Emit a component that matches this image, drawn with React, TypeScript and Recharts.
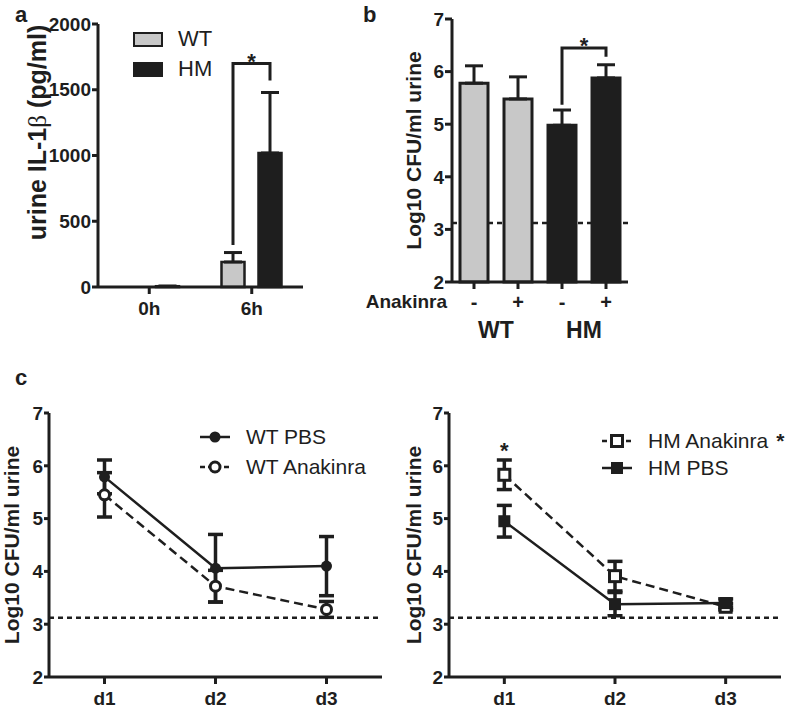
import React from "react";
import {
  BarChart,
  Bar,
  ComposedChart,
  Line,
  XAxis,
  YAxis,
  ErrorBar,
  ReferenceLine,
  LabelList,
  Legend,
  Cell,
} from "recharts";

// a: urine IL-1β
const IL_TIMES = ["0h", "6h"];
const IL_WT = [0, 190];
const IL_WT_SD = [0, 72];
const IL_HM = [6, 1019];
const IL_HM_SD = [0, 460];
const IL_TICKS = [0, 500, 1000, 1500, 2000];
const IL_BRACKET = [320, 1700, 1570]; // left foot, top, right foot

// b: CFU with / without anakinra
const CFU_KEYS = ["WT-", "WT+", "HM-", "HM+"];
const CFU_SIGNS = ["-", "+", "-", "+"];
const CFU_GROUPS = ["WT", "WT", "HM", "HM"];
const CFU_MEAN = [5.78, 5.48, 4.98, 5.88];
const CFU_SD = [0.33, 0.42, 0.29, 0.25];
const CFU_BRACKET = [5.37, 6.45, 6.28];

const LOG_TICKS = [2, 3, 4, 5, 6, 7];
const DETECTION_LIMIT = 3.12;

// c: time course
const DAYS = ["d1", "d2", "d3"];
const WT_PBS = [5.79, 4.06, 4.1];
const WT_PBS_SD = [0.32, 0.64, 0.56];
const WT_ANA = [5.45, 3.72, 3.28];
const WT_ANA_SD = [0.42, 0.3, 0.15];
const HM_ANA = [5.83, 3.91, 3.33];
const HM_ANA_SD = [0.28, 0.28, 0.06];
const HM_PBS = [4.95, 3.38, 3.4];
const HM_PBS_SD = [0.3, 0.22, 0.08];

const FONT = '"Liberation Sans", Arial, sans-serif';
const INK = "#1e1e1e";
const GREY = "#c8c8c8";

const ilData = IL_TIMES.map((t, i) => ({
  time: t,
  wt: IL_WT[i],
  hm: IL_HM[i],
  wtErr: [0, IL_WT_SD[i]],
  hmErr: [0, IL_HM_SD[i]],
}));

const cfuData = CFU_KEYS.map((k, i) => ({
  key: k,
  mean: CFU_MEAN[i],
  err: [0, CFU_SD[i]],
}));

const wtDays = DAYS.map((d, i) => ({
  day: d,
  pbs: WT_PBS[i],
  pbsErr: WT_PBS_SD[i],
  ana: WT_ANA[i],
  anaErr: WT_ANA_SD[i],
}));

const hmDays = DAYS.map((d, i) => ({
  day: d,
  pbs: HM_PBS[i],
  pbsErr: HM_PBS_SD[i],
  ana: HM_ANA[i],
  anaErr: HM_ANA_SD[i],
}));

// chart geometry
const A_GAP = 14;
const B = { left: 358, w: 282, h: 350, top: 19, right: 12, yw: 94, xh: 68 };
const B_BAND = (B.w - B.yw - B.right) / CFU_KEYS.length;
const C_YW = 49;

const axisLine = { stroke: INK, strokeWidth: 3 };
const tickFont = { fill: INK, fontSize: 19, fontWeight: 700, fontFamily: FONT };
const dashed = { stroke: INK, strokeWidth: 2.5, strokeDasharray: "5 4" };

const AxisTitle = ({ viewBox, cx, dy = 0, size = 21, children }: any) => {
  const cy = viewBox.y + viewBox.height / 2 + dy;
  return (
    <text
      x={cx}
      y={cy}
      transform={`rotate(-90, ${cx}, ${cy})`}
      textAnchor="middle"
      dominantBaseline="central"
      fill={INK}
      fontFamily={FONT}
      fontWeight={700}
      fontSize={size}
    >
      {children}
    </text>
  );
};

const box = (p: any) => p.viewBox ?? p;

// significance bracket between the two 6h bars
const IlBracket = (props: any) => {
  if (props.index !== 1) return null;
  const { x, y, width, height } = box(props);
  const value = IL_HM[1];
  const base = y + height;
  const py = (v: number) => base - (v * height) / value;
  const xr = x + width / 2;
  const xl = xr - width - A_GAP;
  const [l, t, r] = IL_BRACKET.map(py);
  return (
    <g>
      <path d={`M${xl},${l} V${t} H${xr} V${r}`} fill="none" stroke={INK} strokeWidth={3} />
      <text x={(xl + xr) / 2} y={t + 6} textAnchor="middle" fill={INK} fontFamily={FONT} fontWeight={700} fontSize={22}>
        *
      </text>
    </g>
  );
};

const CfuBracket = (props: any) => {
  if (props.index !== 3) return null;
  const { x, y, width, height } = box(props);
  const value = CFU_MEAN[3];
  const base = y + height;
  const py = (v: number) => base - ((v - 2) * height) / (value - 2);
  const xr = x + width / 2;
  const xl = xr - B_BAND;
  const [l, t, r] = CFU_BRACKET.map(py);
  return (
    <g>
      <path d={`M${xl},${l} V${t} H${xr} V${r}`} fill="none" stroke={INK} strokeWidth={3} />
      <text x={(xl + xr) / 2} y={t + 5} textAnchor="middle" fill={INK} fontFamily={FONT} fontWeight={700} fontSize={22}>
        *
      </text>
    </g>
  );
};

const CfuTick = ({ x, y, payload }: any) => {
  const i = CFU_KEYS.indexOf(payload.value);
  const txt = { fill: INK, fontFamily: FONT, fontWeight: 700 };
  return (
    <g>
      <text x={x} y={y + 20} textAnchor="middle" fontSize={20} {...txt}>
        {CFU_SIGNS[i]}
      </text>
      {i === 0 && (
        <text x={x - 27} y={y + 19} textAnchor="end" fontSize={19} {...txt}>
          Anakinra
        </text>
      )}
      {i % 2 === 0 && (
        <text x={x + B_BAND / 2} y={y + 49} textAnchor="middle" fontSize={23} {...txt}>
          {CFU_GROUPS[i]}
        </text>
      )}
    </g>
  );
};

const marker = (shape: string, cx: number, cy: number, key?: any) => {
  if (shape === "circle") return <circle key={key} cx={cx} cy={cy} r={5.5} fill={INK} />;
  if (shape === "openCircle")
    return <circle key={key} cx={cx} cy={cy} r={5} fill="#fff" stroke={INK} strokeWidth={3} />;
  if (shape === "square")
    return <rect key={key} x={cx - 6} y={cy - 6} width={12} height={12} fill={INK} />;
  return (
    <rect key={key} x={cx - 5.5} y={cy - 5.5} width={11} height={11} fill="#fff" stroke={INK} strokeWidth={3} />
  );
};

const dotOf = (shape: string) => (p: any) => marker(shape, p.cx, p.cy, `${shape}-${p.index}`);

const SeriesLegend = ({ items, rowH }: any) => (
  <div style={{ fontFamily: FONT, fontSize: 21, color: INK }}>
    {items.map((it: any) => (
      <div key={it.name} style={{ display: "flex", alignItems: "center", height: rowH }}>
        <svg width={30} height={16} style={{ overflow: "visible" }}>
          <line
            x1={0}
            x2={30}
            y1={8}
            y2={8}
            stroke={INK}
            strokeWidth={2.5}
            strokeDasharray={it.dashed ? "5 3" : undefined}
          />
          {marker(it.shape, 15, 8)}
        </svg>
        <span style={{ marginLeft: 16, whiteSpace: "nowrap" }}>
          {it.name}
          {it.star && <span style={{ marginLeft: 8, fontWeight: 700 }}>*</span>}
        </span>
      </div>
    ))}
  </div>
);

const BarLegend = () => (
  <div style={{ fontFamily: FONT, fontSize: 22, color: INK }}>
    {[
      { name: "WT", fill: GREY },
      { name: "HM", fill: INK },
    ].map((it) => (
      <div key={it.name} style={{ display: "flex", alignItems: "center", height: 30 }}>
        <div style={{ width: 26, height: 11, background: it.fill, border: `2px solid ${INK}` }} />
        <span style={{ marginLeft: 15 }}>{it.name}</span>
      </div>
    ))}
  </div>
);

const panelLabel = (text: string, left: number, top: number) => (
  <div
    style={{
      position: "absolute",
      left,
      top,
      fontFamily: FONT,
      fontWeight: 700,
      fontSize: 22,
      lineHeight: "22px",
      color: INK,
    }}
  >
    {text}
  </div>
);

const TimeCourse = ({ data, first, second, legendPos, rowH, width, right, title, star }: any) => {
  const pad = (width - C_YW - right) / (DAYS.length * 2);
  return (
    <ComposedChart width={width} height={368} data={data} margin={{ top: 73, right, bottom: 0, left: 0 }}>
      <XAxis
        dataKey="day"
        height={31}
        padding={{ left: pad, right: pad }}
        axisLine={axisLine}
        tickLine={axisLine}
        tickSize={7}
        tickMargin={8}
        tick={tickFont}
      />
      <YAxis
        width={C_YW}
        type="number"
        domain={[2, 7]}
        ticks={LOG_TICKS}
        interval={0}
        axisLine={axisLine}
        tickLine={axisLine}
        tickSize={5}
        tickMargin={1}
        tick={tickFont}
        label={<AxisTitle cx={title}>Log10 CFU/ml urine</AxisTitle>}
      />
      <ReferenceLine y={DETECTION_LIMIT} {...dashed} />
      {[first, second].map((s: any) => (
        <Line
          key={s.key}
          dataKey={s.key}
          stroke={INK}
          strokeWidth={2.5}
          strokeDasharray={s.dashed ? "9 5" : undefined}
          dot={dotOf(s.shape)}
          activeDot={false}
          isAnimationActive={false}
        >
          <ErrorBar dataKey={`${s.key}Err`} width={7.5} strokeWidth={3.5} stroke={INK} direction="y" />
          {star && s.key === "ana" && (
            <LabelList
              dataKey="ana"
              content={(p: any) =>
                p.index === 0 ? (
                  <text
                    x={box(p).x}
                    y={box(p).y - 17}
                    textAnchor="middle"
                    fill={INK}
                    fontFamily={FONT}
                    fontWeight={700}
                    fontSize={22}
                  >
                    *
                  </text>
                ) : null
              }
            />
          )}
        </Line>
      ))}
      <Legend
        layout="vertical"
        align="center"
        verticalAlign="middle"
        wrapperStyle={{ ...legendPos, width: "auto" }}
        content={() => <SeriesLegend items={[first, second]} rowH={rowH} />}
      />
    </ComposedChart>
  );
};

// same frame for the two layers of panel b, so the dashed limit sits behind the bars
const CfuFrame = ({ visible, children }: any) => (
  <BarChart
    width={B.w}
    height={B.h}
    data={cfuData}
    margin={{ top: B.top, right: B.right, bottom: 0, left: 0 }}
    barSize={28}
  >
    <XAxis
      dataKey="key"
      height={B.xh}
      axisLine={visible ? axisLine : false}
      tickLine={visible ? axisLine : false}
      tickSize={7}
      tickMargin={0}
      tick={visible ? <CfuTick /> : false}
      interval={0}
    />
    <YAxis
      width={B.yw}
      type="number"
      domain={[2, 7]}
      ticks={LOG_TICKS}
      interval={0}
      axisLine={visible ? axisLine : false}
      tickLine={visible ? axisLine : false}
      tickSize={7}
      tickMargin={1}
      tick={visible ? tickFont : false}
      label={visible ? <AxisTitle cx={55}>Log10 CFU/ml urine</AxisTitle> : undefined}
    />
    {children}
  </BarChart>
);

export default function App() {
  return (
    <div style={{ position: "absolute", left: 0, top: 0, width: 790, height: 708, background: "#fff" }}>
      {panelLabel("a", 15, 4)}
      {panelLabel("b", 363, 4)}
      {panelLabel("c", 15, 367)}

      <div style={{ position: "absolute", left: 0, top: 0 }}>
        <BarChart
          width={320}
          height={330}
          data={ilData}
          margin={{ top: 24, right: 17, bottom: 0, left: 0 }}
          barSize={23}
          barGap={A_GAP}
        >
          <XAxis
            dataKey="time"
            height={43}
            axisLine={axisLine}
            tickLine={axisLine}
            tickSize={7}
            tickMargin={8}
            tick={tickFont}
          />
          <YAxis
            width={98}
            type="number"
            domain={[0, 2000]}
            ticks={IL_TICKS}
            interval={0}
            axisLine={axisLine}
            tickLine={axisLine}
            tickSize={6}
            tickMargin={1}
            tick={tickFont}
            label={
              <AxisTitle cx={37} dy={-23} size={25}>
                urine IL-1
                <tspan fontWeight={400} fontFamily='"Liberation Serif", serif'>
                  β
                </tspan>
                {" (pg/ml)"}
              </AxisTitle>
            }
          />
          <Bar dataKey="wt" fill={GREY} stroke={INK} strokeWidth={2.5} isAnimationActive={false}>
            <ErrorBar dataKey="wtErr" width={9} strokeWidth={3} stroke={INK} direction="y" />
          </Bar>
          <Bar dataKey="hm" fill={INK} stroke={INK} strokeWidth={2.5} isAnimationActive={false}>
            <ErrorBar dataKey="hmErr" width={9} strokeWidth={3} stroke={INK} direction="y" />
            <LabelList dataKey="hm" content={IlBracket} />
          </Bar>
          <Legend
            layout="vertical"
            align="center"
            verticalAlign="middle"
            wrapperStyle={{ left: 133, top: 24, width: "auto" }}
            content={() => <BarLegend />}
          />
        </BarChart>
      </div>

      {/* bottom layer: detection limit only (bars kept invisible to set the frame) */}
      <div style={{ position: "absolute", left: B.left, top: 0 }}>
        <CfuFrame visible={false}>
          <Bar dataKey="mean" fill="none" stroke="none" isAnimationActive={false} />
          <ReferenceLine y={DETECTION_LIMIT} {...dashed} />
        </CfuFrame>
      </div>
      <div style={{ position: "absolute", left: B.left, top: 0 }}>
        <CfuFrame visible>
          <Bar dataKey="mean" stroke={INK} strokeWidth={3} isAnimationActive={false}>
            {cfuData.map((d, i) => (
              <Cell key={d.key} fill={CFU_GROUPS[i] === "WT" ? GREY : INK} />
            ))}
            <ErrorBar dataKey="err" width={9} strokeWidth={3} stroke={INK} direction="y" />
            <LabelList dataKey="mean" content={CfuBracket} />
          </Bar>
        </CfuFrame>
      </div>

      <div style={{ position: "absolute", left: 0, top: 340 }}>
        <TimeCourse
          data={wtDays}
          width={400}
          right={18}
          title={11}
          rowH={30}
          legendPos={{ left: 200, top: 82 }}
          first={{ key: "pbs", name: "WT PBS", shape: "circle", dashed: false }}
          second={{ key: "ana", name: "WT Anakinra", shape: "openCircle", dashed: true }}
        />
      </div>

      <div style={{ position: "absolute", left: 400, top: 340 }}>
        <TimeCourse
          data={hmDays}
          width={390}
          right={9}
          title={13}
          rowH={27}
          star
          legendPos={{ left: 202, top: 87 }}
          first={{ key: "ana", name: "HM Anakinra", shape: "openSquare", dashed: true, star: true }}
          second={{ key: "pbs", name: "HM PBS", shape: "square", dashed: false }}
        />
      </div>
    </div>
  );
}
